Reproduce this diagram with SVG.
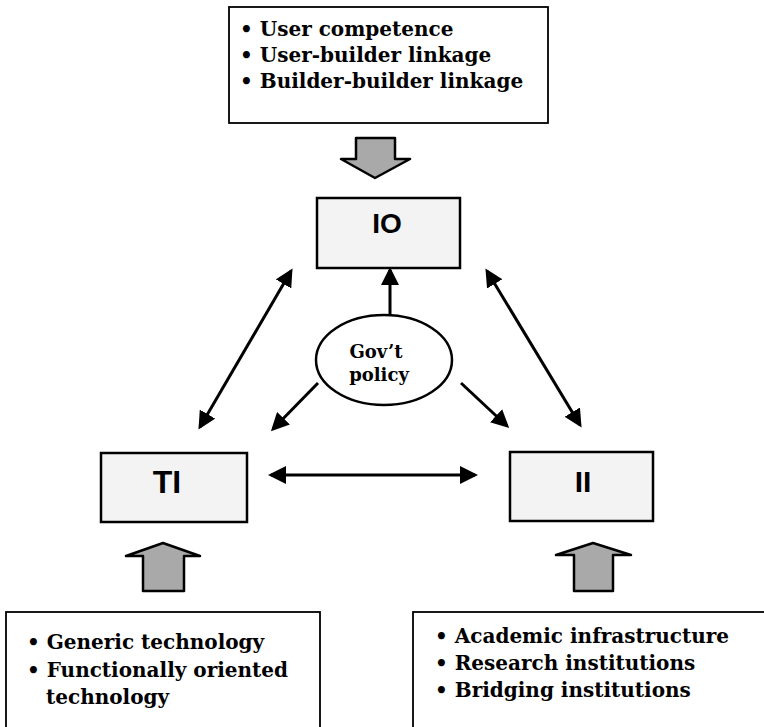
<svg xmlns="http://www.w3.org/2000/svg" width="764" height="727" viewBox="0 0 764 727">
<defs>
<style>
.box{fill:#f3f3f3;stroke:#000;stroke-width:2.5}
.tbox{fill:#fff;stroke:#000;stroke-width:1.8}
.blk{fill:#a9a9a9;stroke:#000;stroke-width:2.5;stroke-linejoin:round}
.lbl{font-family:"Liberation Sans",Arial,sans-serif;font-weight:bold;fill:#000;text-anchor:middle}
.txt{font-family:"DejaVu Serif","Liberation Serif",serif;font-weight:bold;font-size:20px;fill:#000}
.gov{font-family:"DejaVu Serif","Liberation Serif",serif;font-weight:bold;font-size:18px;fill:#000;text-anchor:middle}
.con{stroke:#000;stroke-width:3;fill:none;marker-end:url(#ah)}
.con2{stroke:#000;stroke-width:3;fill:none;marker-start:url(#ahs);marker-end:url(#ah)}
</style>
<marker id="ah" markerWidth="6" markerHeight="6" refX="5" refY="3" orient="auto" markerUnits="strokeWidth">
<path d="M0,0 L6,3 L0,6 Z" fill="#000"/>
</marker>
<marker id="ahs" markerWidth="6" markerHeight="6" refX="1" refY="3" orient="auto" markerUnits="strokeWidth">
<path d="M6,0 L0,3 L6,6 Z" fill="#000"/>
</marker>
</defs>
<rect width="764" height="727" fill="#fff"/>

<g id="top-factors">
<rect class="tbox" x="229" y="7" width="319" height="116"/>
<text class="txt" x="240" y="36">• User competence</text>
<text class="txt" x="240" y="62">• User-builder linkage</text>
<text class="txt" x="240" y="88">• Builder-builder linkage</text>
</g>
<g id="top-block-arrow">
<path class="blk" d="M356,138 L395,138 L395,159 L410,159 L375,178 L341,159 L356,159 Z"/>
</g>

<g id="IO">
<rect class="box" x="317" y="198" width="143" height="70"/>
<text class="lbl" x="387" y="233" font-size="28">IO</text>
</g>

<g id="TI">
<rect class="box" x="101" y="453" width="146" height="69"/>
<text class="lbl" x="167" y="493" font-size="32">TI</text>
</g>

<g id="II">
<rect class="box" x="510" y="452" width="143" height="69"/>
<text class="lbl" x="583" y="492" font-size="30">II</text>
</g>

<g id="govt-policy">
<ellipse cx="384" cy="360" rx="68" ry="45" fill="#fff" stroke="#000" stroke-width="2.5"/>
<text class="gov" x="376" y="358">Gov’t</text>
<text class="gov" x="379" y="381">policy</text>
</g>

<g id="left-block-arrow">
<path class="blk" d="M143,591 L184,591 L184,556 L200,556 L163,543 L126,556 L143,556 Z"/>
</g>
<g id="right-block-arrow">
<path class="blk" d="M574,591 L613,591 L613,555 L631,555 L593,543 L556,555 L574,555 Z"/>
</g>

<g id="tech-factors">
<rect class="tbox" x="6" y="612" width="314" height="120"/>
<text class="txt" x="27" y="649">• Generic technology</text>
<text class="txt" x="27" y="677">• Functionally oriented</text>
<text class="txt" x="46" y="704">technology</text>
</g>

<g id="infra-factors">
<rect class="tbox" x="413" y="612" width="360" height="120"/>
<text class="txt" x="435" y="643">• Academic infrastructure</text>
<text class="txt" x="435" y="670">• Research institutions</text>
<text class="txt" x="435" y="697">• Bridging institutions</text>
</g>

<g id="connectors">
<line class="con" x1="390" y1="314" x2="390" y2="270"/>
<line class="con2" x1="200" y1="427" x2="291" y2="271"/>
<line class="con2" x1="487" y1="271" x2="580" y2="425"/>
<line class="con2" x1="271" y1="475" x2="475" y2="475"/>
<line class="con" x1="318" y1="383" x2="273" y2="429"/>
<line class="con" x1="461" y1="383" x2="507" y2="426"/>
</g>
</svg>
